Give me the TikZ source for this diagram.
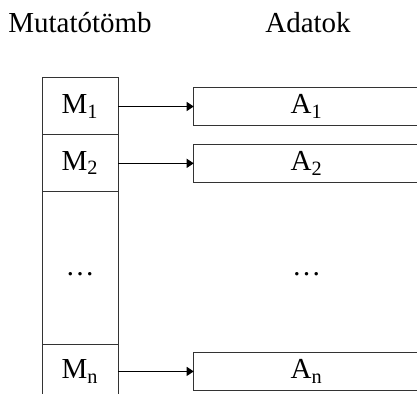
\documentclass[tikz,border=0pt]{standalone}
\usepackage{fontspec}
\setmainfont{Liberation Serif}
\usetikzlibrary{arrows.meta, positioning}

\begin{document}
\begin{tikzpicture}[
        x=0.5pt, y=-0.5pt,
        every node/.style={font=\fontsize{14.5}{17}\selectfont},
        cell/.style={rectangle, draw=black!80, line width=0.5pt, inner sep=0pt, outer sep=0pt, minimum width=38pt, align=center},
        databox/.style={rectangle, draw=black!80, line width=0.5pt, inner sep=0pt, outer sep=0pt, minimum width=113pt, minimum height=18.75pt, align=center},
        title/.style={inner sep=0pt, anchor=center},
        pointer/.style={-{Triangle[length=3.5pt, width=4.5pt]}, line width=0.5pt}
    ]
        \useasboundingbox (0,0) rectangle (417,394);
        \clip (0,0) rectangle (417,394);

        % column titles
        \node[title] (ptrtitle) at (80,23) {Mutatótömb};
        \node[title] (datatitle) at (308,23) {Adatok};

        % pointer array
        \node[cell, minimum height=28.5pt] (m1) at (80,106.5) {M\textsubscript{1}};
        \node[cell, minimum height=28.35pt, below=0pt of m1] (m2) {M\textsubscript{2}};
        \node[cell, minimum height=76.6pt, below=0pt of m2] (m3) {\strut\dots};
        \node[cell, minimum height=26.5pt, below=0pt of m3] (mn) {M\textsubscript{n}};

        % data records
        \node[databox, right=37.85pt of m1] (a1) {A\textsubscript{1}};
        \node[databox, right=37.85pt of m2] (a2) {A\textsubscript{2}};
        \node[inner sep=0pt] (adots) at (m3 -| a1) {\strut\dots};
        \node[databox, right=37.85pt of mn] (an) {A\textsubscript{n}};

        \draw[pointer] (m1) -- (a1);
        \draw[pointer] (m2) -- (a2);
        \draw[pointer] (mn) -- (an);
    \end{tikzpicture}
\end{document}
